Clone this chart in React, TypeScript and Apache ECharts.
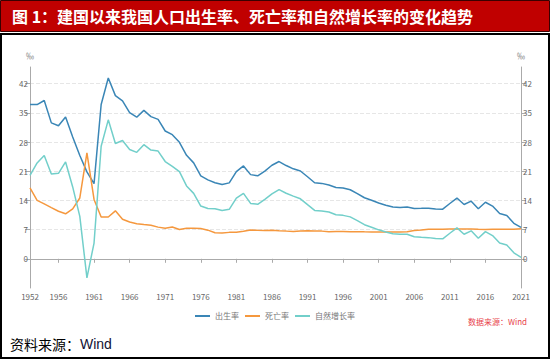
import React, { useEffect, useRef } from "react";
import * as echarts from "echarts";

const years = [
  "1952","1953","1954","1955","1956","1957","1958","1959","1960","1961",
  "1962","1963","1964","1965","1966","1967","1968","1969","1970","1971",
  "1972","1973","1974","1975","1976","1977","1978","1979","1980","1981",
  "1982","1983","1984","1985","1986","1987","1988","1989","1990","1991",
  "1992","1993","1994","1995","1996","1997","1998","1999","2000","2001",
  "2002","2003","2004","2005","2006","2007","2008","2009","2010","2011",
  "2012","2013","2014","2015","2016","2017","2018","2019","2020","2021",
];

const birthRate = [
  37.0, 37.0, 37.97, 32.6, 31.9, 34.03, 29.22, 24.78, 20.86, 18.02,
  37.01, 43.37, 39.14, 37.88, 35.05, 33.96, 35.59, 34.11, 33.43, 30.65,
  29.77, 27.93, 24.82, 23.01, 19.91, 18.93, 18.25, 17.82, 18.21, 20.91,
  22.28, 20.19, 19.9, 21.04, 22.43, 23.33, 22.37, 21.58, 21.06, 19.68,
  18.24, 18.09, 17.7, 17.12, 16.98, 16.57, 15.64, 14.64, 14.03, 13.38,
  12.86, 12.41, 12.29, 12.4, 12.09, 12.1, 12.14, 11.95, 11.9, 13.27,
  14.57, 13.03, 13.83, 11.99, 13.57, 12.64, 10.86, 10.41, 8.52, 7.52,
];

const deathRate = [
  17.0, 14.0, 13.18, 12.28, 11.4, 10.8, 11.98, 14.59, 25.43, 14.24,
  10.02, 10.04, 11.5, 9.5, 8.83, 8.43, 8.21, 8.03, 7.6, 7.32,
  7.61, 7.04, 7.34, 7.32, 7.25, 6.87, 6.25, 6.21, 6.34, 6.36,
  6.6, 6.9, 6.82, 6.78, 6.86, 6.72, 6.64, 6.54, 6.67, 6.7,
  6.64, 6.64, 6.49, 6.57, 6.56, 6.51, 6.5, 6.46, 6.45, 6.43,
  6.41, 6.4, 6.42, 6.51, 6.81, 6.93, 7.06, 7.08, 7.11, 7.14,
  7.13, 7.13, 7.12, 7.07, 7.04, 7.06, 7.08, 7.09, 7.07, 7.18,
];

const naturalGrowth = [
  20.0, 23.0, 24.79, 20.32, 20.5, 23.23, 17.24, 10.19, -4.57, 3.78,
  26.99, 33.33, 27.64, 28.38, 26.22, 25.53, 27.38, 26.08, 25.83, 23.33,
  22.16, 20.89, 17.48, 15.69, 12.66, 12.06, 12.0, 11.61, 11.87, 14.55,
  15.68, 13.29, 13.08, 14.26, 15.57, 16.61, 15.73, 15.04, 14.39, 12.98,
  11.6, 11.45, 11.21, 10.55, 10.42, 10.06, 9.14, 8.18, 7.58, 6.95,
  6.45, 6.01, 5.87, 5.89, 5.28, 5.17, 5.08, 4.87, 4.79, 6.13,
  7.43, 5.9, 6.71, 4.93, 6.53, 5.58, 3.78, 3.32, 1.45, 0.34,
];

const seriesNames = ["出生率", "死亡率", "自然增长率"];
const seriesColors = ["#3a86b6", "#f5983e", "#72cfca"];

const titleText = "图 1：建国以来我国人口出生率、死亡率和自然增长率的变化趋势";
const sourceInner = "数据来源：Wind";

export default function App() {
  const ref = useRef<HTMLDivElement>(null);

  useEffect(() => {
    document.body.style.margin = "0";
    if (!ref.current) return;
    const chart = echarts.init(ref.current, null, { renderer: "svg" });
    const lastIdx = years.length - 1;
    const showIdx = (idx: number) => idx === 0 || (lastIdx - idx) % 5 === 0;
    const yLabelFmt = (v: number) => (v >= 0 && v % 7 === 0 ? String(v) : "");
    const font = "'Noto Sans CJK SC', 'Noto Sans', sans-serif";

    const yAxisCommon = {
      type: "value",
      min: -7,
      max: 46,
      interval: 7,
      name: "‰",
      nameGap: 8,
      nameTextStyle: { color: "#777", fontSize: 8, fontFamily: font },
      axisLine: { show: true, lineStyle: { color: "#aaa", width: 1 } },
      axisTick: { show: true, length: 5, lineStyle: { color: "#aaa" } },
      axisLabel: {
        color: "#666",
        fontSize: 8,
        margin: 2,
        fontFamily: font,
        formatter: yLabelFmt,
        showMinLabel: false,
        showMaxLabel: false,
      },
    };

    chart.setOption({
      animation: false,
      backgroundColor: "#fff",
      grid: { left: 30, right: 29, top: 67, bottom: 72, containLabel: false },
      legend: {
        data: seriesNames,
        left: "center",
        top: 307,
        icon: "rect",
        itemWidth: 15,
        itemHeight: 2,
        itemGap: 6,
        textStyle: { color: "#777", fontSize: 8, fontFamily: font },
      },
      xAxis: {
        type: "category",
        boundaryGap: false,
        data: years,
        axisLine: { lineStyle: { color: "#aaa", width: 1 } },
        axisTick: { show: true, length: 4, interval: (idx: number) => showIdx(idx), lineStyle: { color: "#aaa" } },
        axisLabel: {
          color: "#666",
          fontSize: 8,
          margin: 4,
          fontFamily: font,
          interval: (idx: number) => showIdx(idx),
        },
      },
      yAxis: [
        {
          ...yAxisCommon,
          position: "left",
          splitLine: {
            show: true,
            showMinLine: false,
            showMaxLine: false,
            lineStyle: { color: "#e6e6e6", type: "dashed", width: 1 },
          },
        },
        {
          ...yAxisCommon,
          position: "right",
          splitLine: { show: false },
        },
      ],
      series: [
        {
          name: seriesNames[0],
          type: "line",
          data: birthRate,
          symbol: "none",
          lineStyle: { width: 1.5, color: seriesColors[0] },
          itemStyle: { color: seriesColors[0] },
        },
        {
          name: seriesNames[1],
          type: "line",
          data: deathRate,
          symbol: "none",
          lineStyle: { width: 1.5, color: seriesColors[1] },
          itemStyle: { color: seriesColors[1] },
        },
        {
          name: seriesNames[2],
          type: "line",
          data: naturalGrowth,
          symbol: "none",
          lineStyle: { width: 1.5, color: seriesColors[2] },
          itemStyle: { color: seriesColors[2] },
        },
      ],
      graphic: [
        {
          type: "rect",
          shape: { x: 0.5, y: 0.5, width: 549, height: 31 },
          style: { fill: "#c00000", stroke: "#3a0000", lineWidth: 1 },
          silent: true,
        },
        {
          type: "text",
          x: 12,
          y: 16,
          style: {
            text: titleText,
            fill: "#ffffff",
            font: `bold 16px 'Noto Sans CJK SC', sans-serif`,
            verticalAlign: "middle",
            align: "left",
          },
          silent: true,
        },
        {
          type: "rect",
          shape: { x: 1, y: 34, width: 548, height: 324 },
          style: { fill: "none", stroke: "#000", lineWidth: 2 },
          silent: true,
        },
        {
          type: "text",
          x: 527,
          y: 321,
          style: {
            text: sourceInner,
            fill: "#e8434b",
            font: `8px 'Noto Sans CJK SC', sans-serif`,
            align: "right",
            verticalAlign: "middle",
          },
          silent: true,
        },
        {
          type: "text",
          x: 10,
          y: 344,
          style: {
            text: "{a|资料来源：}{b|Wind}",
            verticalAlign: "middle",
            align: "left",
            rich: {
              a: { fill: "#000", fontSize: 14, fontFamily: "'Noto Sans CJK SC', sans-serif" },
              b: { fill: "#111133", fontSize: 14, fontFamily: "'Liberation Sans', Arial, sans-serif" },
            },
          },
          silent: true,
        },
      ],
    });
    return () => chart.dispose();
  }, []);

  return <div ref={ref} style={{ width: 550, height: 360 }} />;
}
